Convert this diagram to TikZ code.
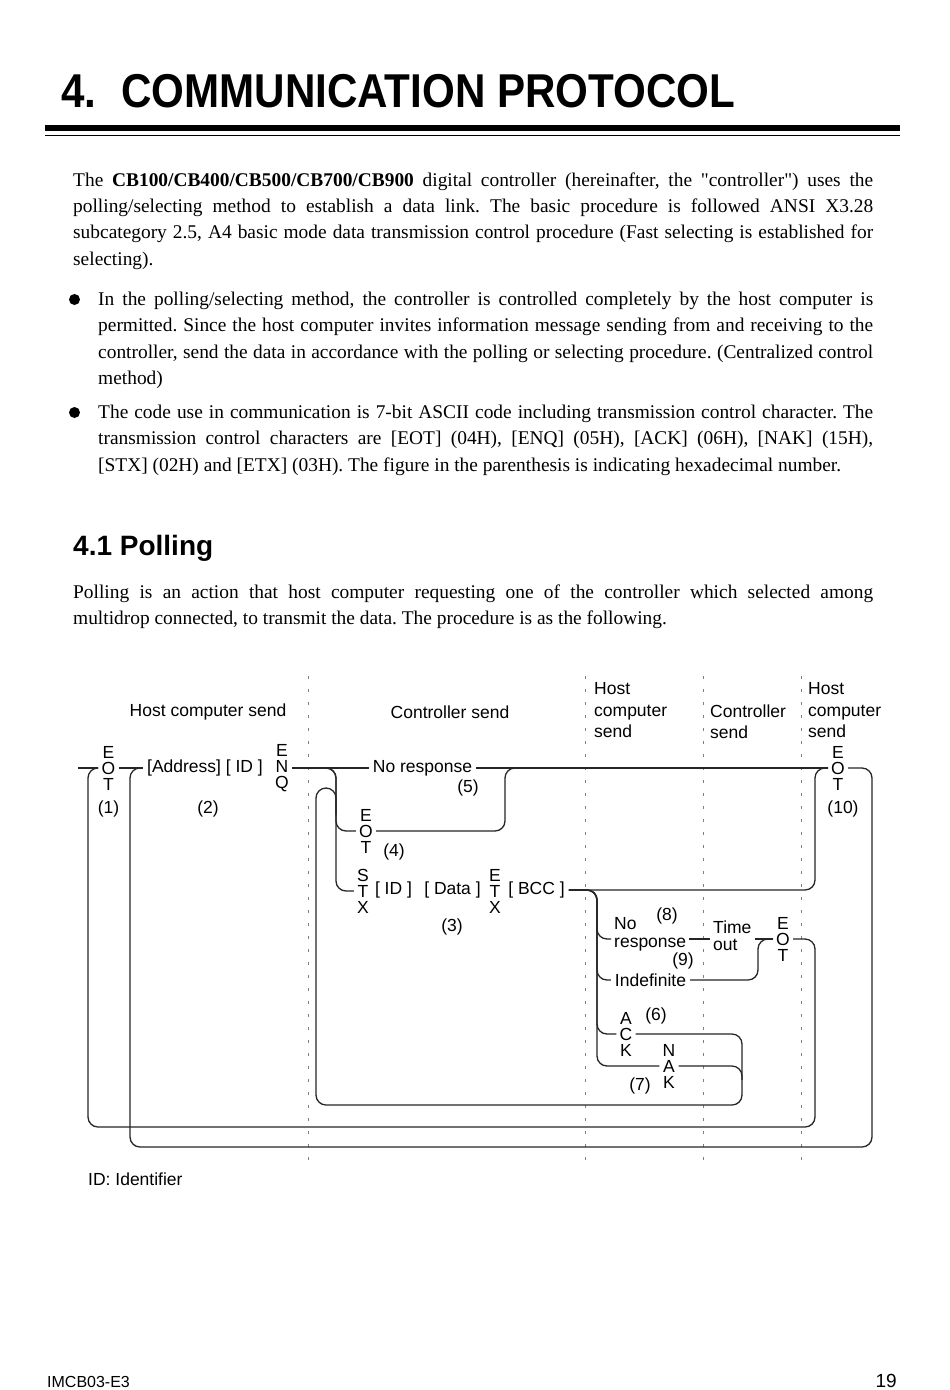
\documentclass[tikz,border=0pt]{standalone}
\usepackage{fontspec}
\usepackage{graphicx}
\setmainfont{Liberation Serif}
\setsansfont{Liberation Sans}
\newfontfamily\qfont{Liberation Serif}
\frenchspacing
\begin{document}
\begin{tikzpicture}[x=1pt,y=-1pt]
\tikzset{
  body/.style={anchor=base west, inner sep=0pt, font=\frenchspacing\fontsize{19.4}{26.4}\selectfont},
  lab/.style={font=\sffamily\fontsize{17.5}{21.5}\selectfont, inner sep=4pt},
  hdr/.style={font=\sffamily\fontsize{17.5}{21.5}\selectfont, inner sep=0pt, anchor=north west, align=left},
  twol/.style={font=\sffamily\fontsize{17.5}{17.5}\selectfont, inner xsep=3pt, inner ysep=0pt, anchor=north west, align=left},
  stack/.style={font=\sffamily\fontsize{17.5}{16}\selectfont, align=center, inner sep=3pt},
  conn/.style={line width=1.3pt, rounded corners=10pt, black!85},
  sepline/.style={black!50, line width=0.9pt, dash pattern=on 2.5pt off 10.5pt},
  bul/.style={circle, fill=black, inner sep=0pt, minimum size=11pt},
}
\fill[white] (0,0) rectangle (950,1390);
\useasboundingbox (0,0) rectangle (950,1390);

% ---- title ----
\node[anchor=base west, inner sep=0pt, font=\sffamily\bfseries\fontsize{47.5}{47.5}\selectfont] (tnum) at (61,107) {\scalebox{0.887}[1]{4.}};
\node[anchor=base west, inner sep=0pt, font=\sffamily\bfseries\fontsize{47.5}{47.5}\selectfont] (ttext) at (121,107) {\scalebox{0.887}[1]{COMMUNICATION PROTOCOL}};
\draw[line width=5.5pt] (45,128) -- (900,128);
\draw[line width=1.5pt] (45,135.5) -- (900,135.5);

% ---- body text ----
\node[body] (p1a) at (73,186) {\makebox[800pt][s]{The \textbf{CB100/CB400/CB500/CB700/CB900} digital controller (hereinafter, the {\qfont"}controller{\qfont"}) uses the}};
\node[body] (p1b) at (73,212.5) {\makebox[800pt][s]{polling/selecting method to establish a data link. The basic procedure is followed ANSI X3.28}};
\node[body] (p1c) at (73,238.5) {\makebox[800pt][s]{subcategory 2.5, A4 basic mode data transmission control procedure (Fast selecting is established for}};
\node[body] (p1d) at (73,265) {selecting).};

\node[bul] (b1) at (74.5,299.5) {};
\node[body] (q1a) at (98,305) {\makebox[775pt][s]{In the polling/selecting method, the controller is controlled completely by the host computer is}};
\node[body] (q1b) at (98,331.5) {\makebox[775pt][s]{permitted. Since the host computer invites information message sending from and receiving to the}};
\node[body] (q1c) at (98,358) {\makebox[775pt][s]{controller, send the data in accordance with the polling or selecting procedure. (Centralized control}};
\node[body] (q1d) at (98,384.5) {method)};

\node[bul] (b2) at (74.5,412.5) {};
\node[body] (q2a) at (98,418) {\makebox[775pt][s]{The code use in communication is 7-bit ASCII code including transmission control character. The}};
\node[body] (q2b) at (98,444.5) {\makebox[775pt][s]{transmission control characters are [EOT] (04H), [ENQ] (05H), [ACK] (06H), [NAK] (15H),}};
\node[body] (q2c) at (98,471) {[STX] (02H) and [ETX] (03H). The figure in the parenthesis is indicating hexadecimal number.};

\node[anchor=base west, inner sep=0pt, font=\sffamily\bfseries\fontsize{28}{28}\selectfont] (h41) at (73,555) {4.1 Polling};
\node[body] (r1a) at (73,598) {\makebox[800pt][s]{Polling is an action that host computer requesting one of the controller which selected among}};
\node[body] (r1b) at (73,624.5) {multidrop connected, to transmit the data. The procedure is as the following.};

% ---- column separators ----
\draw[sepline] (308,676) -- (308,1160);
\draw[sepline] (585,676) -- (585,1160);
\draw[sepline] (703,676) -- (703,1160);
\draw[sepline] (801,676) -- (801,1160);

% ---- column headers ----
\node[lab] (hdrA) at (208,712) {Host computer send};
\node[lab] (hdrB) at (450,712) {Controller send};
\node[hdr] (hdrC) at (594,682.5) {Host\\computer\\send};
\node[hdr] (hdrD) at (710,704.5) {Controller\\send};
\node[hdr] (hdrE) at (808,682.5) {Host\\computer\\send};

% ---- nodes ----
\node[stack] (eotA) at (108.5,768) {E\\O\\T};
\node[lab] (addr) at (205,768) {[Address] [ ID ]};
\node[stack] (enq) at (282,768) {E\\N\\Q};
\node[lab] (nores) at (422.5,768) {No response};
\node[stack] (eotJ) at (838,768) {E\\O\\T};
\node[lab] (n1) at (108.5,809) {(1)};
\node[lab] (n2) at (208,809) {(2)};
\node[lab] (n5) at (468,788) {(5)};
\node[lab] (n10) at (843,809) {(10)};

\node[stack] (eotB) at (366,831) {E\\O\\T};
\node[lab] (n4) at (394,852) {(4)};

\node[stack] (stx) at (363,891) {S\\T\\X};
\node[lab] (idf) at (393.5,890) {[ ID ]};
\node[lab] (data) at (452.5,890) {[ Data ]};
\node[stack] (etx) at (495,891) {E\\T\\X};
\node[lab] (bcc) at (536.5,890) {[ BCC ]};
\node[lab] (n3) at (452,927) {(3)};

\node[twol] (nr2) at (611,917.5) {No\\response};
\node[twol] (tout) at (710,920.5) {Time\\out};
\node[stack] (eotK) at (783,939) {E\\O\\T};
\node[lab] (n8) at (667,916) {(8)};
\node[lab] (n9) at (683,961) {(9)};
\node[lab] (indef) at (650.5,980) {Indefinite};
\node[stack] (ack) at (626,1034) {A\\C\\K};
\node[lab] (n6) at (656,1016) {(6)};
\node[stack] (nak) at (669,1066) {N\\A\\K};
\node[lab] (n7) at (640,1086) {(7)};

\node[lab, anchor=base west, inner sep=0pt] (idnote) at (88,1185) {ID: Identifier};

% ---- junction coordinates ----
\coordinate (s0) at (78,768);
\coordinate (jB) at (336,800);
\coordinate (jC) at (505,800);
\coordinate (jI) at (815,830);
\coordinate (jJ) at (597,910);
\coordinate (jK) at (758,960);
\coordinate (jD) at (742,1080);
\coordinate (jE) at (316,1105);
\coordinate (jF) at (316,788);
\coordinate (jG) at (336,788);
\coordinate (jH) at (336,815);
\coordinate (rR) at (872,1147);
\coordinate (rL) at (130,1147);
\coordinate (oR) at (815,1127);
\coordinate (oL) at (88,1127);
\coordinate (nr2L) at (nr2.west |- eotK);
\coordinate (nr2R) at (nr2.east |- eotK);
\coordinate (toutL) at (tout.west |- eotK);
\coordinate (toutR) at (tout.east |- eotK);

% ---- connectors ----
\draw[conn] (s0) -- (eotA.west);
\draw[conn] (eotA.east) -- (addr.west);
\draw[conn] (enq.east) -- (nores.west);
\draw[conn] (nores.east) -- (eotJ.west);
\draw[conn] (eotJ.east) -| (rR) -- (rL) |- (addr.west);
\draw[conn] (eotK.east) -| (oR) -- (oL) |- (eotA.west);
\draw[conn] (enq.east) -| (jB) |- (eotB.west);
\draw[conn] (enq.east) -| (jB) |- (stx.west);
\draw[conn] (eotB.east) -| (jC) |- (eotJ.west);
\draw[conn] (bcc.east) -| (jI) |- (eotJ.west);
\draw[conn] (bcc.east) -| (jJ) |- (nr2L);
\draw[conn] (bcc.east) -| (jJ) |- (indef.west);
\draw[conn] (bcc.east) -| (jJ) |- (ack.west);
\draw[conn] (bcc.east) -| (jJ) |- (nak.west);
\draw[conn] (nr2R) -- (toutL);
\draw[conn] (toutR) -- (eotK.west);
\draw[conn] (indef.east) -| (jK) |- (eotK.west);
\draw[conn] (ack.east) -| (jD) |- (jE) -- (jF) -- (jG) -- (jH);
\draw[conn] (nak.east) -| (jD);

% ---- footer ----
\node[anchor=base west, inner sep=0pt, font=\sffamily\fontsize{16}{16}\selectfont] (foot) at (47,1387.5) {IMCB03-E3};
\node[anchor=base east, inner sep=0pt, font=\sffamily\fontsize{19}{19}\selectfont] (pg) at (897,1387.5) {19};
\end{tikzpicture}
\end{document}
